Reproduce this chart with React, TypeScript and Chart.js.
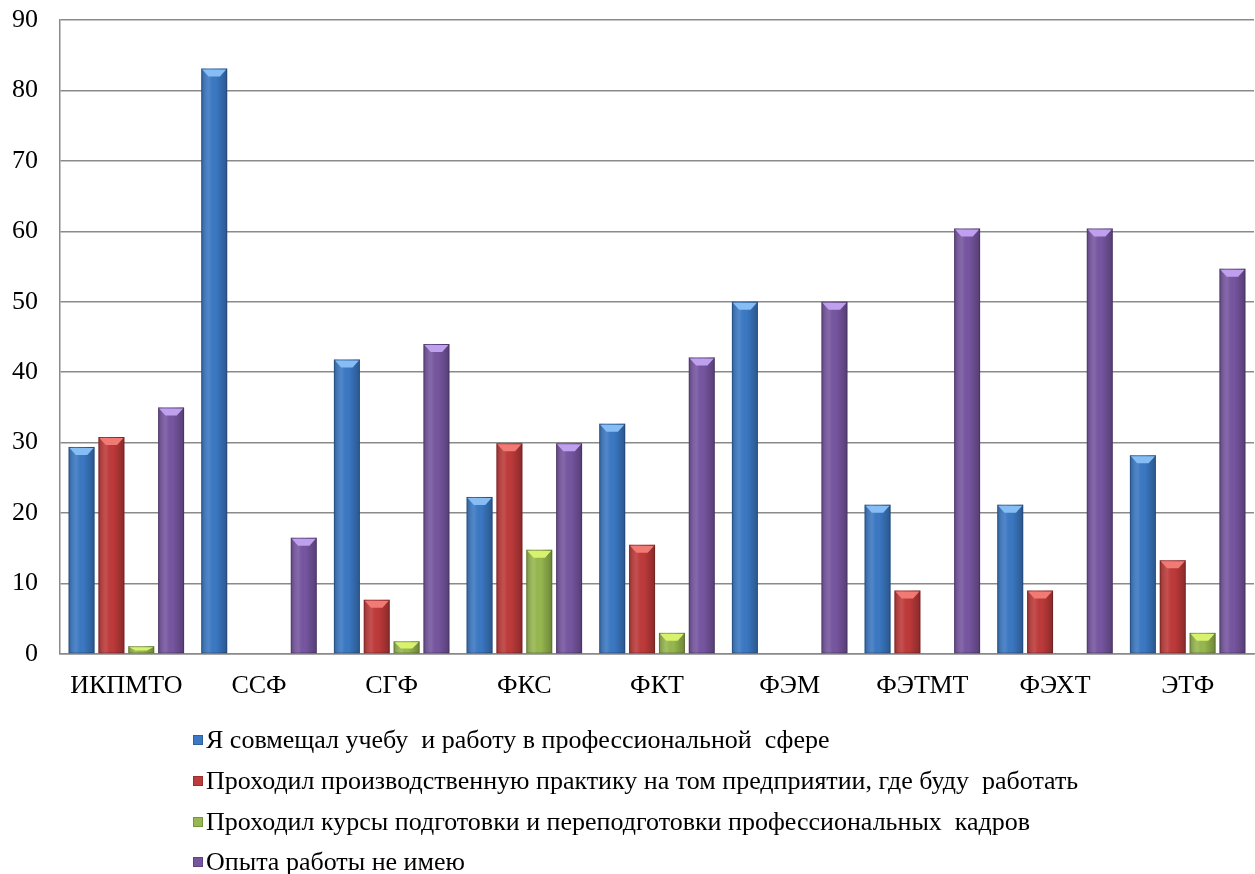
import React, { useEffect, useRef } from "react";
import { Chart, registerables } from "chart.js";

Chart.register(...registerables);

const categories = ["ИКПМТО", "ССФ", "СГФ", "ФКС", "ФКТ", "ФЭМ", "ФЭТМТ", "ФЭХТ", "ЭТФ"];
const seriesNames = [
  "Я совмещал учебу  и работу в профессиональной  сфере",
  "Проходил производственную практику на том предприятии, где буду  работать",
  "Проходил курсы подготовки и переподготовки профессиональных  кадров",
  "Опыта работы не имею",
];
const combined = [29.4, 83.1, 41.8, 22.3, 32.7, 50.0, 21.2, 21.2, 28.2];
const internship = [30.8, 0, 7.7, 29.9, 15.5, 0, 9.0, 9.0, 13.3];
const courses = [1.1, 0, 1.8, 14.8, 3.0, 0, 0, 0, 3.0];
const noExperience = [35.0, 16.5, 44.0, 29.9, 42.1, 50.0, 60.4, 60.4, 54.7];
const yTicks = [0, 10, 20, 30, 40, 50, 60, 70, 80, 90];

const baseColors = ["#3B79C4", "#BF3A3A", "#97B84F", "#7756A1"];
const lightColors = ["#86BDF4", "#F27A74", "#D9F26E", "#BFA0EE"];

const FONT = "'Liberation Serif', 'Times New Roman', serif";

const barStylePlugin = {
  id: "barStyle",
  afterDatasetsDraw(chart: any) {
    const ctx = chart.ctx;
    chart.data.datasets.forEach((ds: any, di: number) => {
      const meta = chart.getDatasetMeta(di);
      meta.data.forEach((el: any, i: number) => {
        const v = ds.data[i];
        if (!v) return;
        const w = el.width;
        const left = el.x - w / 2;
        const right = el.x + w / 2;
        const top = el.y;
        const bottom = el.base;
        ctx.save();
        const g = ctx.createLinearGradient(left, 0, right, 0);
        g.addColorStop(0, "rgba(0,0,0,0.22)");
        g.addColorStop(0.3, "rgba(255,255,255,0.10)");
        g.addColorStop(0.55, "rgba(0,0,0,0.0)");
        g.addColorStop(1, "rgba(0,0,0,0.28)");
        ctx.fillStyle = g;
        ctx.fillRect(left, top, w, bottom - top);
        ctx.strokeStyle = "rgba(0,0,0,0.18)";
        ctx.lineWidth = 1;
        ctx.strokeRect(left + 0.5, top + 0.5, w - 1, bottom - top - 1);
        const th = Math.min(8, (bottom - top) * 0.6);
        ctx.beginPath();
        ctx.moveTo(left + 1, top + 1);
        ctx.lineTo(right - 1, top + 1);
        ctx.lineTo(el.x + w * 0.22, top + th);
        ctx.lineTo(el.x - w * 0.22, top + th);
        ctx.closePath();
        ctx.fillStyle = lightColors[di];
        ctx.fill();
        ctx.restore();
      });
    });
  },
};

export default function App() {
  const ref = useRef<HTMLCanvasElement>(null);
  useEffect(() => {
    if (!ref.current) return;
    const series = [combined, internship, courses, noExperience];
    const chart = new Chart(ref.current, {
      type: "bar",
      data: {
        labels: categories,
        datasets: series.map((d, i) => ({
          label: seriesNames[i],
          data: d,
          backgroundColor: baseColors[i],
          borderWidth: 0,
          barPercentage: 0.87,
          categoryPercentage: 0.9,
        })),
      },
      options: {
        responsive: false,
        animation: false,
        layout: { padding: { top: 20, right: 1, left: 0, bottom: 0 } },
        plugins: { legend: { display: false }, tooltip: { enabled: false } },
        scales: {
          x: {
            grid: { display: false, drawTicks: false },
            border: { display: true, color: "#8a8a8a", width: 1.5 },
            ticks: { font: { family: FONT, size: 26 }, color: "#000", padding: 17, maxRotation: 0 },
            afterFit(scale: any) {
              scale.height = 220;
            },
          },
          y: {
            min: 0,
            max: 90,
            afterBuildTicks(scale: any) {
              scale.ticks = yTicks.map((v) => ({ value: v }));
            },
            grid: { color: "#8a8a8a", lineWidth: 1.5, drawTicks: false },
            border: { display: true, color: "#8a8a8a", width: 1.5 },
            ticks: { font: { family: FONT, size: 26 }, color: "#000", padding: 22 },
            afterFit(scale: any) {
              scale.width = 60;
              scale.paddingTop = 0;
              scale.paddingBottom = 0;
            },
          },
        },
      },
      plugins: [barStylePlugin],
    });
    return () => chart.destroy();
  }, []);

  const legendTops = [740, 781, 822, 862];
  return (
    <div style={{ position: "absolute", left: 0, top: 0, width: 1255, height: 874, background: "#fff" }}>
      <canvas ref={ref} width={1255} height={874} style={{ width: 1255, height: 874, display: "block" }} />
      {seriesNames.map((name, i) => (
        <div
          key={i}
          style={{
            position: "absolute",
            left: 193,
            top: legendTops[i] - 15,
            height: 30,
            display: "flex",
            alignItems: "center",
            fontFamily: FONT,
            fontSize: 26,
            color: "#000",
            whiteSpace: "pre",
          }}
        >
          <span
            style={{
              display: "inline-block",
              width: 10,
              height: 10,
              background: baseColors[i],
              border: "1px solid rgba(0,0,0,0.2)",
              marginRight: 3,
              boxSizing: "border-box",
            }}
          />
          <span>{name}</span>
        </div>
      ))}
    </div>
  );
}
